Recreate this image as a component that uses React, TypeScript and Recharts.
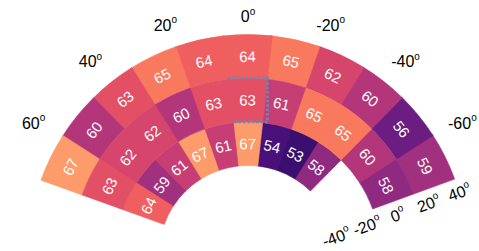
import React from "react";
import { RadialBarChart, RadialBar, PolarAngleAxis, PolarRadiusAxis, Cell, Sector } from "recharts";

// centre azimuth of each sector (deg), listed right to left
const sectorTheta = [-63.6, -50.9, -38.2, -25.5, -12.7, 0, 12.7, 25.5, 38.2, 50.9, 63.6];
// radial edges of the three rings (deg)
const ringEdges = [-40, -13.3, 13.3, 40];
// cell values, same order as sectorTheta
const innerRing = [null, null, 58, 53, 54, 67, 61, 67, 61, 59, 64];
const middleRing = [58, 60, 65, 65, 61, 63, 63, 60, 62, 62, 63];
const outerRing = [59, 56, 60, 62, 65, 64, 64, 65, 63, 60, 67];

const angleTicks = [-60, -40, -20, 0, 20, 40, 60];
const radiusTicks = [-40, -20, 0, 20, 40];

const COLORS: Record<number, string> = {
    53: '#3b0f6f', 54: '#4a1079', 56: '#6c1d81', 58: '#8f2a80', 59: '#a1307e', 60: '#b3367a',
    61: '#c63e73', 62: '#d6466c', 63: '#e35066', 64: '#ef5f5f', 65: '#f8795d', 67: '#fd9b6a'
};

const CX = 248;
const CY = 254.5;
const INNER = 89;
const OUTER = 220;
const FONT = '"Liberation Sans", Arial, sans-serif';

const rings = [
    { key: 'inner', edge: 0 },
    { key: 'outer', edge: 2 },
    { key: 'middle', edge: 1 },   // drawn last so the highlight box sits on top
];

const data = sectorTheta.map((theta, i) => ({
    sector: theta,
    inner: innerRing[i],
    middle: middleRing[i],
    outer: outerRing[i],
}));

const toRad = (a: number) => a * Math.PI / 180;

const makeShape = (key: string) => (props: any) => {
    const { cx, cy, innerRadius, outerRadius, startAngle, endAngle, fill, payload } = props;
    const temp = payload[key];
    if (temp == null) return <g />;
    const mid = (startAngle + endAngle) / 2;
    const r = (innerRadius + outerRadius) / 2;
    const x = cx + r * Math.cos(toRad(mid));
    const y = cy - r * Math.sin(toRad(mid));
    const boxed = key === 'middle' && payload.sector === 0;
    const lo = Math.min(startAngle, endAngle);
    const hi = Math.max(startAngle, endAngle);
    return (
        <g>
            <Sector cx={cx} cy={cy} innerRadius={innerRadius} outerRadius={outerRadius}
                startAngle={startAngle} endAngle={endAngle} fill={fill} stroke={fill} strokeWidth={0.6} />
            <text x={x} y={y} textAnchor="middle" dominantBaseline="central" fill="#fff"
                fontSize={15} fontFamily={FONT} transform={`rotate(${90 - mid} ${x} ${y})`}>
                {temp}
            </text>
            {boxed && (
                <rect
                    x={cx + outerRadius * Math.cos(toRad(hi))}
                    y={cy - outerRadius}
                    width={outerRadius * (Math.cos(toRad(lo)) - Math.cos(toRad(hi)))}
                    height={outerRadius - innerRadius}
                    fill="none" stroke="#6489bb" strokeWidth={2.8} strokeDasharray="2.4 2"
                />
            )}
        </g>
    );
};

const AngleTick = (props: any) => {
    const { payload } = props;
    const a = payload.coordinate;
    const theta = payload.value;
    const s = Math.sin(toRad(theta));
    const r = OUTER + 18 + 14 * Math.abs(s);
    const x = CX + r * Math.cos(toRad(a)) + 3 * s * Math.abs(s);
    const y = CY - r * Math.sin(toRad(a)) - 8 * s * s;
    return (
        <text x={x} y={y} textAnchor="middle" dominantBaseline="central" fontSize={16} fontFamily={FONT} fill="#000">
            {theta}<tspan dy={-6} fontSize={10}>o</tspan>
        </text>
    );
};

const RadiusTick = (props: any) => {
    const { x, y, payload } = props;
    const lx = x + 14 * Math.sin(toRad(20));
    const ly = y + 14 * Math.cos(toRad(20));
    return (
        <text x={lx} y={ly} textAnchor="middle" dominantBaseline="central" fontSize={16} fontFamily={FONT}
            fill="#000" transform={`rotate(-20 ${lx} ${ly})`}>
            {payload.value}<tspan dy={-6} fontSize={10}>o</tspan>
        </text>
    );
};

const App = () => {
    return (
        <div style={{ position: 'absolute', left: 0, top: 0, width: 479, height: 251, background: '#fff' }}>
            <RadialBarChart width={479} height={251} data={data} layout="centric"
                cx={CX} cy={CY} innerRadius={INNER} outerRadius={OUTER}
                startAngle={20} endAngle={160} barCategoryGap={0}
                margin={{ top: 0, right: 0, bottom: 0, left: 0 }}>
                {rings.map((ring) => (
                    <PolarAngleAxis key={`ax-${ring.key}`} angleAxisId={ring.key} type="number" dataKey="sector"
                        domain={[-70, 70]} ticks={sectorTheta} allowDataOverflow
                        axisLine={false} tickLine={false} tick={false} />
                ))}
                {/* degree labels round the outside */}
                <PolarAngleAxis angleAxisId="deg" type="number" dataKey="sector"
                    domain={[-70, 70]} ticks={angleTicks} allowDataOverflow
                    axisLine={false} tickLine={false} tick={<AngleTick />} />
                <PolarRadiusAxis type="number" domain={[-40, 40]} ticks={radiusTicks} angle={20}
                    allowDataOverflow axisLine={false} tick={<RadiusTick />} />
                <RadialBar
                    angleAxisId="deg"
                    dataKey={() => [ringEdges[0], ringEdges[3]]}
                    shape={() => <g />}
                    isAnimationActive={false}
                />
                {rings.map((ring) => (
                    <RadialBar
                        key={ring.key}
                        angleAxisId={ring.key}
                        dataKey={() => [ringEdges[ring.edge], ringEdges[ring.edge + 1]]}
                        shape={makeShape(ring.key)}
                        isAnimationActive={false}
                    >
                        {data.map((item: any, index: number) => {
                            const v = item[ring.key];
                            return <Cell key={`cell-${index}`} fill={v == null ? 'none' : COLORS[v]} />;
                        })}
                    </RadialBar>
                ))}
            </RadialBarChart>
        </div>
    );
};

export default App;
